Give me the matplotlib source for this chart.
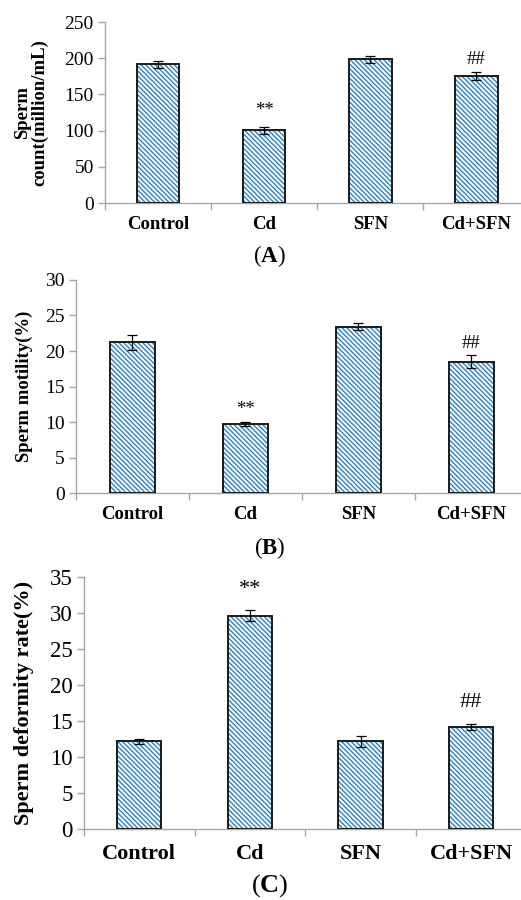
import matplotlib
matplotlib.use('Agg')
import matplotlib.pyplot as plt

plt.rcParams['font.family'] = ['Liberation Serif', 'DejaVu Serif']
plt.rcParams['mathtext.fontset'] = 'custom'
plt.rcParams['mathtext.rm'] = 'Liberation Serif'
plt.rcParams['mathtext.bf'] = 'Liberation Serif:bold'
plt.rcParams['hatch.linewidth'] = 1.0

groups = ['Control', 'Cd', 'SFN', 'Cd+SFN']

count_vals = [191.5, 100.5, 198.5, 175.0]
count_err = [5.0, 5.0, 4.5, 5.5]

motility_vals = [21.2, 9.7, 23.4, 18.5]
motility_err = [1.05, 0.3, 0.5, 0.9]

deform_vals = [12.2, 29.6, 12.2, 14.2]
deform_err = [0.35, 0.75, 0.75, 0.45]

# significance marks: (group index, text, y position)
count_marks = [(1, '**', 128), (3, '##', 198)]
motility_marks = [(1, '**', 11.8), (3, '##', 21.0)]
deform_marks = [(1, '**', 33.3), (3, '##', 17.5)]

blue = '#2a82c6'
axis_grey = '#a6a6a6'

fig = plt.figure(figsize=(5.21, 9.0), dpi=100)


def panel(rect, vals, err, marks, ylim, yticks, ylabel, label_x, xright, fs, tag, tag_y, xlab_pad):
    ax = fig.add_axes(rect)
    x = range(len(groups))
    ax.bar(x, vals, width=0.4, color='white', edgecolor=blue, hatch='\\' * 7, linewidth=0, zorder=2)
    ax.bar(x, vals, width=0.4, fill=False, edgecolor='#1a1a1a', linewidth=1.4, zorder=3)
    ax.errorbar(x, vals, yerr=err, fmt='none', ecolor='black', elinewidth=0.9, capsize=3.5, capthick=0.9, zorder=4)
    for i, t, y in marks:
        ax.text(i, y, t, ha='center', va='center', fontsize=fs)
    ax.set_xlim(-0.5, xright)
    ax.set_ylim(*ylim)
    ax.set_yticks(yticks)
    ax.tick_params(axis='y', labelsize=fs + 0.5, color=axis_grey, length=5, width=1, pad=3)
    ax.set_xticks(list(x))
    ax.set_xticklabels(groups, fontweight='bold', fontsize=fs)
    ax.tick_params(axis='x', which='major', length=0, pad=xlab_pad)
    ax.set_xticks([-0.5, 0.5, 1.5, 2.5], minor=True)
    ax.tick_params(axis='x', which='minor', length=5, width=1, color=axis_grey)
    for s in ['top', 'right']:
        ax.spines[s].set_visible(False)
    for s in ['left', 'bottom']:
        ax.spines[s].set_color(axis_grey)
        ax.spines[s].set_linewidth(1)
    ax.set_ylabel(ylabel, fontweight='bold', fontsize=fs, va='center', linespacing=1.0)
    ax.yaxis.set_label_coords(label_x, 0.5)
    fig.text(0.518, tag_y, tag, ha='center', va='center', fontsize=fs + 3)
    return ax


panel([0.2015, 0.7744, 0.7985, 0.2011], count_vals, count_err, count_marks,
      (0, 250), range(0, 251, 50), 'Sperm\ncount(million/mL)', -0.178, 3.42, 13.5,
      r'($\mathbf{A}$)', 1 - 256 / 900, 9)

panel([0.1459, 0.4522, 0.8541, 0.2367], motility_vals, motility_err, motility_marks,
      (0, 30), range(0, 31, 5), 'Sperm motility(%)', -0.115, 3.44, 13.5,
      r'($\mathbf{B}$)', 1 - 548 / 900, 9)

panel([0.1612, 0.0789, 0.8388, 0.2800], deform_vals, deform_err, deform_marks,
      (0, 35), range(0, 36, 5), 'Sperm deformity rate(%)', -0.137, 3.45, 16,
      r'($\mathbf{C}$)', 1 - 886 / 900, 11)

plt.savefig('out.png', dpi=100)
